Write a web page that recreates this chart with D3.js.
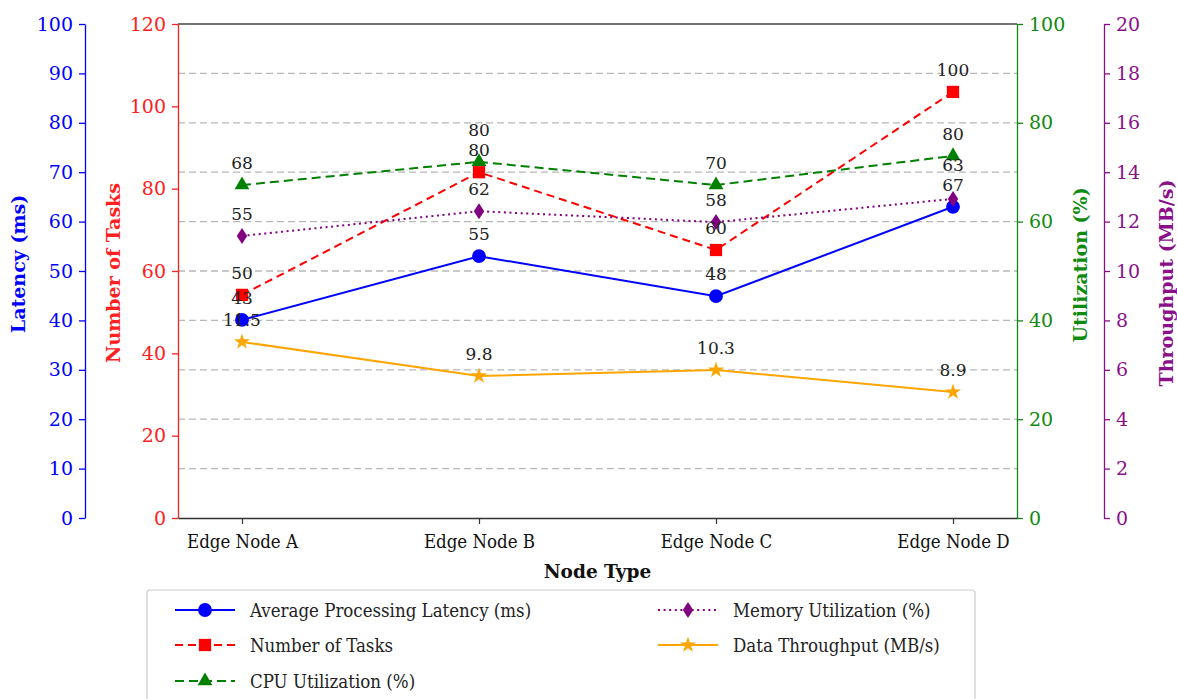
<!DOCTYPE html>
<html><head><meta charset="utf-8">
<script src="https://cdn.jsdelivr.net/npm/d3@7"></script>
<style>body{margin:0;background:#fff}</style>
</head><body><svg id="c" width="1177" height="699"></svg>
<script>
// ---- data ----
const categories = ["Edge Node A", "Edge Node B", "Edge Node C", "Edge Node D"];
const latency = [40.1, 53.0, 44.9, 63.0];
const latencyLabels = ["43", "55", "48", "67"];
const tasks = [54.2, 84.0, 65.1, 103.5];
const tasksLabels = ["50", "80", "60", "100"];
const cpu = [67.4, 72.1, 67.4, 73.3];
const cpuLabels = ["68", "80", "70", "80"];
const memory = [57.1, 62.1, 59.9, 64.6];
const memoryLabels = ["55", "62", "58", "63"];
const throughput = [7.13, 5.75, 5.99, 5.10];
const throughputLabels = ["11.5", "9.8", "10.3", "8.9"];
const latencyTicks = [0, 10, 20, 30, 40, 50, 60, 70, 80, 90, 100];
const taskTicks = [0, 20, 40, 60, 80, 100, 120];
const utilTicks = [0, 20, 40, 60, 80, 100];
const tputTicks = [0, 2, 4, 6, 8, 10, 12, 14, 16, 18, 20];

// ---- layout ----
const svg = d3.select("#c");
const L = 178, R = 1017, T = 24, B = 518;
const SERIF = "'DejaVu Serif', serif";
const COND = "'DejaVu Serif Condensed', 'DejaVu Serif', serif";

const x = d3.scalePoint().domain(categories).range([L, R]).padding(0.27);
const yLat = d3.scaleLinear().domain([0, 100]).range([B, T]);
const yTask = d3.scaleLinear().domain([0, 120]).range([B, T]);
const yUtil = d3.scaleLinear().domain([0, 100]).range([B, T]);
const yTput = d3.scaleLinear().domain([0, 20]).range([B, T]);

svg.append("rect").attr("width", 1177).attr("height", 699).attr("fill", "#fff");

// grid
svg.append("g").selectAll("line")
  .data(latencyTicks.filter(t => t > 0 && t < 100)).join("line")
  .attr("x1", L).attr("x2", R)
  .attr("y1", d => yLat(d)).attr("y2", d => yLat(d))
  .attr("stroke", "#b8b8b8").attr("stroke-width", 1.3).attr("stroke-dasharray", "7,4");

// frame top
svg.append("line").attr("x1", L).attr("x2", R).attr("y1", T).attr("y2", T)
  .attr("stroke", "#444").attr("stroke-width", 1.6);

function styleAxis(g, color) {
  g.select(".domain").attr("stroke", color).attr("stroke-width", 1.3);
  g.selectAll(".tick line").attr("stroke", color).attr("stroke-width", 1.3);
  g.selectAll(".tick text").attr("fill", color)
    .style("font-family", SERIF).style("font-size", "19px");
}

const axLat = svg.append("g").attr("transform", "translate(85,0)")
  .call(d3.axisLeft(yLat).tickValues(latencyTicks).tickSize(6).tickSizeOuter(0).tickPadding(6));
styleAxis(axLat, "#0000ff");
const axTask = svg.append("g").attr("transform", `translate(${L},0)`)
  .call(d3.axisLeft(yTask).tickValues(taskTicks).tickSize(6).tickSizeOuter(0).tickPadding(6));
styleAxis(axTask, "#ff2020");
const axUtil = svg.append("g").attr("transform", `translate(${R},0)`)
  .call(d3.axisRight(yUtil).tickValues(utilTicks).tickSize(6).tickSizeOuter(0).tickPadding(6));
styleAxis(axUtil, "#108a10");
const axTput = svg.append("g").attr("transform", "translate(1104,0)")
  .call(d3.axisRight(yTput).tickValues(tputTicks).tickSize(6).tickSizeOuter(0).tickPadding(6));
styleAxis(axTput, "#8a108a");

const axX = svg.append("g").attr("transform", `translate(0,${B})`)
  .call(d3.axisBottom(x).tickSize(6).tickSizeOuter(0).tickPadding(11));
axX.select(".domain").attr("stroke", "#333").attr("stroke-width", 1.6);
axX.selectAll(".tick line").attr("stroke", "#333").attr("stroke-width", 1.2);
axX.selectAll(".tick text").attr("fill", "#111")
  .style("font-family", COND).style("font-stretch", "condensed").style("font-size", "18.5px");

// axis titles
function vTitle(txt, cx, cy, color) {
  svg.append("text").attr("transform", `translate(${cx},${cy}) rotate(-90)`)
    .attr("text-anchor", "middle").attr("dominant-baseline", "central")
    .attr("fill", color).style("font-family", SERIF).style("font-weight", "bold")
    .style("font-size", "19px").text(txt);
}
vTitle("Latency (ms)", 18, 264, "#0000ff");
vTitle("Number of Tasks", 113, 273, "#ff2020");
vTitle("Utilization (%)", 1080, 265, "#108a10");
vTitle("Throughput (MB/s)", 1166, 283, "#8a108a");
svg.append("text").attr("x", (L + R) / 2).attr("y", 571)
  .attr("text-anchor", "middle").attr("dominant-baseline", "central")
  .attr("fill", "#111").style("font-family", SERIF).style("font-weight", "bold")
  .style("font-size", "18.5px").text("Node Type");

// markers
const diamondPath = "M0,-8L5.2,0L0,8L-5.2,0Z";
const shapes = {
  circle: d3.symbol(d3.symbolCircle, 150)(),
  square: d3.symbol(d3.symbolSquare, 150)(),
  triangle: d3.symbol(d3.symbolTriangle, 95)(),
  diamond: diamondPath,
  star: d3.symbol(d3.symbolStar, 80)()
};

const series = [
  { vals: latency, labels: latencyLabels, y: yLat, color: "#0000ff", dash: null, shape: "circle", name: "Average Processing Latency (ms)" },
  { vals: tasks, labels: tasksLabels, y: yTask, color: "#ff0000", dash: "8,5", shape: "square", name: "Number of Tasks" },
  { vals: cpu, labels: cpuLabels, y: yUtil, color: "#008000", dash: "9,5", shape: "triangle", name: "CPU Utilization (%)" },
  { vals: memory, labels: memoryLabels, y: yUtil, color: "#800080", dash: "2,3.6", shape: "diamond", name: "Memory Utilization (%)" },
  { vals: throughput, labels: throughputLabels, y: yTput, color: "#ffa500", dash: null, shape: "star", name: "Data Throughput (MB/s)" }
];

const labelItems = [];
series.forEach(s => {
  const line = d3.line().x((d, i) => x(categories[i])).y(d => s.y(d));
  svg.append("path").datum(s.vals).attr("d", line).attr("fill", "none")
    .attr("stroke", s.color).attr("stroke-width", 2)
    .attr("stroke-dasharray", s.dash);
  svg.append("g").selectAll("path").data(s.vals).join("path")
    .attr("d", shapes[s.shape])
    .attr("transform", (d, i) => `translate(${x(categories[i])},${s.y(d)})`)
    .attr("fill", s.color);
  s.vals.forEach((d, i) => labelItems.push({ cat: categories[i], x: x(categories[i]), y: s.y(d) - 16, text: s.labels[i] }));
});

// simple collision nudge: within each category, push upper labels up
categories.forEach(c => {
  const items = labelItems.filter(l => l.cat === c).sort((a, b) => b.y - a.y);
  for (let k = 1; k < items.length; k++) {
    if (items[k - 1].y - items[k].y < 20) items[k].y = items[k - 1].y - 20;
  }
});

svg.append("g").selectAll("text").data(labelItems).join("text")
  .attr("x", d => d.x).attr("y", d => d.y)
  .attr("text-anchor", "middle").attr("fill", "#222")
  .style("font-family", SERIF).style("font-size", "17px")
  .text(d => d.text);

// legend
const lg = svg.append("g");
lg.append("rect").attr("x", 147).attr("y", 590).attr("width", 828).attr("height", 130)
  .attr("rx", 3).attr("fill", "#fff").attr("stroke", "#cccccc").attr("stroke-width", 1.2);
const legendPos = [[175, 610], [175, 645], [175, 681], [658, 610], [658, 645]];
series.forEach((s, i) => {
  const [lx, ly] = legendPos[i];
  lg.append("line").attr("x1", lx).attr("x2", lx + 60).attr("y1", ly).attr("y2", ly)
    .attr("stroke", s.color).attr("stroke-width", 2).attr("stroke-dasharray", s.dash);
  lg.append("path").attr("d", shapes[s.shape]).attr("transform", `translate(${lx + 30},${ly})`)
    .attr("fill", s.color);
  lg.append("text").attr("x", lx + 75).attr("y", ly).attr("dominant-baseline", "central")
    .attr("fill", "#222").style("font-family", COND).style("font-stretch", "condensed")
    .style("font-size", "18.5px").text(s.name);
});
</script></body></html>
